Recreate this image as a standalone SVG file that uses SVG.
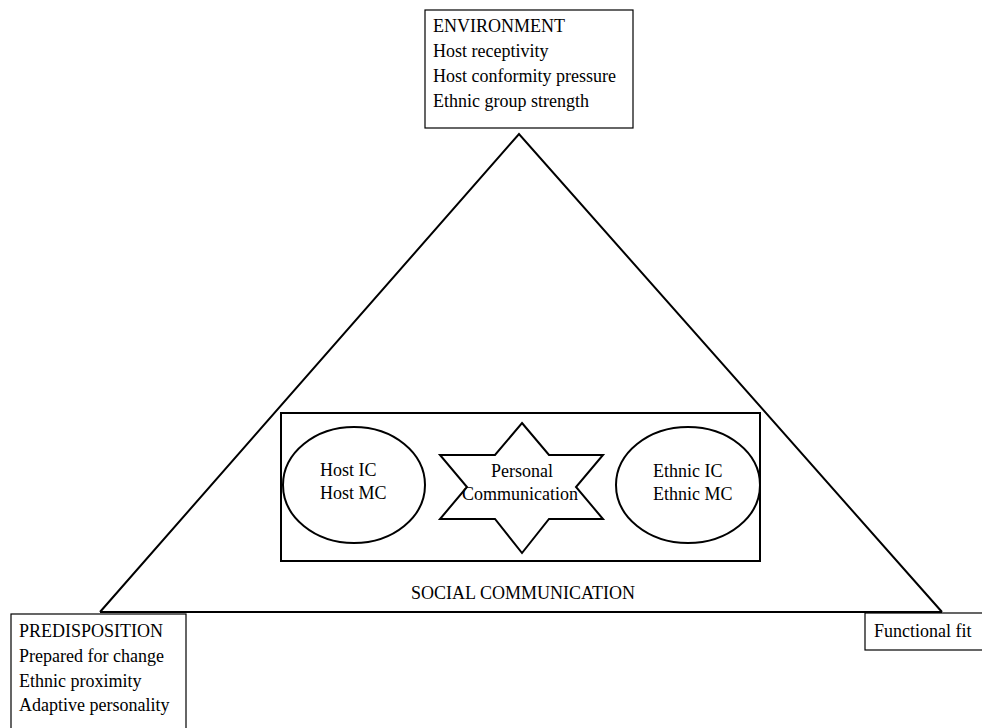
<svg xmlns="http://www.w3.org/2000/svg" width="982" height="728" viewBox="0 0 982 728">
<style>
text{font-family:"Liberation Serif","Times New Roman",serif;font-size:18px;fill:#000}
.b{fill:#fff;stroke:#000;stroke-width:1.2}
.s{fill:none;stroke:#000;stroke-width:2}
</style>
<rect width="982" height="728" fill="#fff"/>
<g id="connectors">
<polyline class="s" points="100,612 519,134 942,612"/>
<line class="s" x1="100" y1="612" x2="942" y2="612" stroke-width="2.5"/>
</g>
<g id="environment">
<rect class="b" x="425" y="10" width="208" height="118"/>
<text x="433" y="32">ENVIRONMENT</text>
<text x="433" y="57">Host receptivity</text>
<text x="433" y="82">Host conformity pressure</text>
<text x="433" y="107">Ethnic group strength</text>
</g>
<g id="social-communication">
<rect class="s" x="281" y="413" width="479" height="148"/>
<text x="523" y="599" text-anchor="middle">SOCIAL COMMUNICATION</text>
</g>
<g id="host">
<ellipse class="s" cx="354" cy="485" rx="71" ry="58"/>
<text x="320" y="476">Host IC</text>
<text x="320" y="499">Host MC</text>
</g>
<g id="personal">
<path class="s" d="M522,423 L549,455 L603,455 L576,487 L603,519 L549,519 L522,553 L495,519 L440,519 L467,487 L440,455 L495,455 Z"/>
<text x="522" y="477" text-anchor="middle">Personal</text>
<text x="520" y="500" text-anchor="middle">Communication</text>
</g>
<g id="ethnic">
<ellipse class="s" cx="688" cy="485" rx="72" ry="58"/>
<text x="653" y="477">Ethnic IC</text>
<text x="653" y="500">Ethnic MC</text>
</g>
<g id="predisposition">
<rect class="b" x="11" y="614" width="175" height="120"/>
<text x="19" y="637">PREDISPOSITION</text>
<text x="19" y="662">Prepared for change</text>
<text x="19" y="687">Ethnic proximity</text>
<text x="19" y="711">Adaptive personality</text>
</g>
<g id="functional-fit">
<rect class="b" x="865" y="613" width="125" height="37"/>
<text x="874" y="637">Functional fit</text>
</g>
</svg>
